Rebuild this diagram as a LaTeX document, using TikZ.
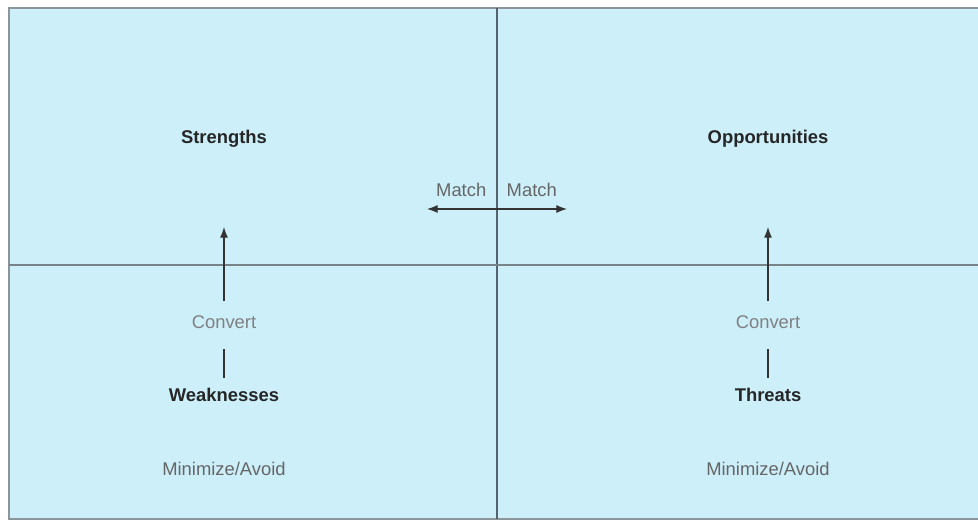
\documentclass[tikz,border=0pt]{standalone}
\usepackage{fontspec}
\setmainfont{Liberation Sans}
\usetikzlibrary{arrows.meta}
\definecolor{swotfill}{HTML}{CCEFFA}
\definecolor{swotedge}{HTML}{8C969A}
\definecolor{swotmid}{HTML}{55646C}
\begin{document}
\begin{tikzpicture}[x=0.75pt,y=-0.75pt,
  head/.style={font=\fontsize{13.8}{16}\selectfont\bfseries,text=black!85},
  note/.style={font=\fontsize{13.8}{16}\selectfont,text=black!60},
  soft/.style={font=\fontsize{13.8}{16}\selectfont,text=black!50},
  link/.style={draw=black!80,line width=0.9pt},
  tip/.style={-{Latex[length=8pt,width=6pt]}}]
\useasboundingbox (0,0) rectangle (978,523);
\clip (0,0) rectangle (978,523);
\draw[fill=swotfill,draw=swotedge,line width=1.5pt] (9,8) rectangle (990,519);
\draw[draw=swotmid,line width=1.1pt] (497,8) -- (497,519);
\draw[draw=swotmid!80,line width=1.3pt] (9,265) -- (990,265);
\node[head] (str) at (224,139) {Strengths};
\node[head] (opp) at (768,139) {Opportunities};
\node[head] (weak) at (224,395) {Weaknesses};
\node[head] (thr) at (768,395) {Threats};
\node[soft] (convL) at (224,322) {Convert};
\node[soft] (convR) at (768,322) {Convert};
\node[note] (minL) at (224,469) {Minimize/Avoid};
\node[note] (minR) at (768,469) {Minimize/Avoid};
\node[note,anchor=east] (matL) at (491,190) {Match};
\node[note,anchor=west] (matR) at (502,190) {Match};
\coordinate (tipL) at (224,227);
\coordinate (tipR) at (768,227);
\coordinate (endL) at (427,209);
\coordinate (endR) at (567,209);
\draw[link] (weak.north) ++(0,-6) -- ([yshift=-12]convL.south);
\draw[link] (thr.north) ++(0,-6) -- ([yshift=-12]convR.south);
\draw[link,tip] ([yshift=7]convL.north) -- (tipL);
\draw[link,tip] ([yshift=7]convR.north) -- (tipR);
\draw[link,{Latex[length=8pt,width=6pt]}-{Latex[length=8pt,width=6pt]}] (endL) -- (endR);
\end{tikzpicture}
\end{document}
